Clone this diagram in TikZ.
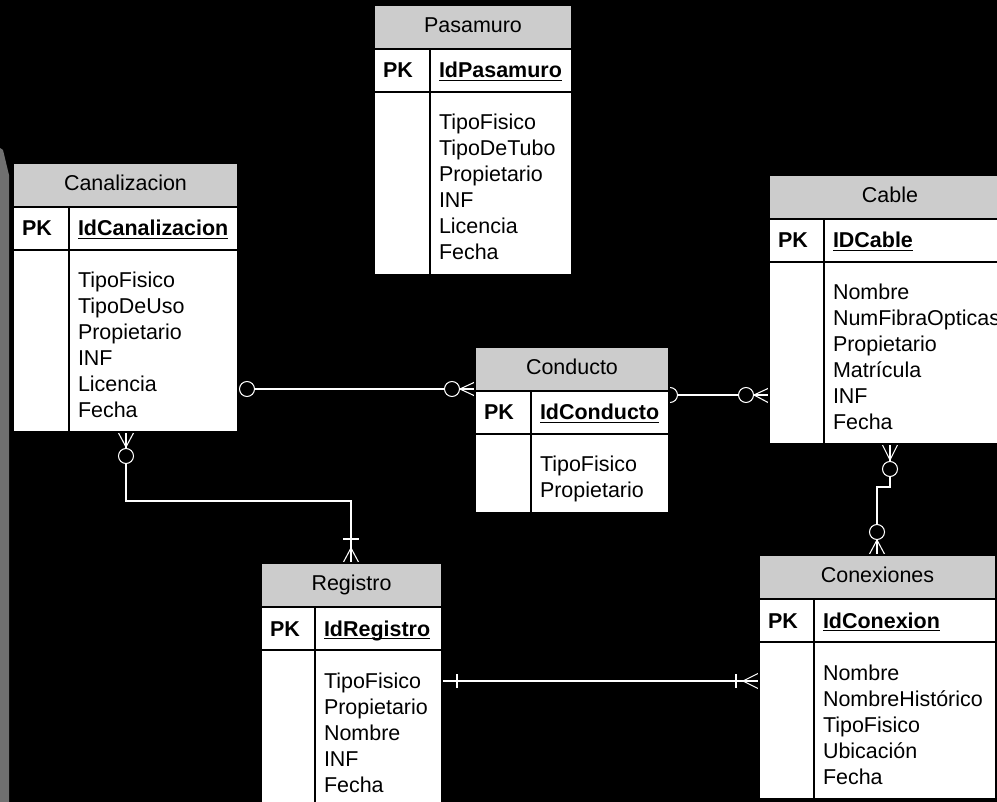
\documentclass[tikz,border=0pt]{standalone}
\usepackage{fontspec}
\setmainfont{Liberation Sans}
\definecolor{hdrgray}{RGB}{204,204,204}
\definecolor{stripgray}{RGB}{112,112,112}
\pgfdeclarelayer{canvas}
\pgfdeclarelayer{links}
\pgfsetlayers{canvas,links,main}
\newcommand\keyul[1]{\setbox0\hbox{#1}\rlap{\rule[-2.6pt]{\wd0}{1.1pt}}\box0}
\tikzset{
  ertable/.style={draw=black, fill=white, line width=1.5pt, inner sep=0pt, outer sep=0pt, anchor=north west},
  sepline/.style={draw=black, line width=1.5pt},
  ertext/.style={inner sep=0pt, outer sep=0pt, text=black, font=\fontsize{16.1pt}{19pt}\selectfont},
  rel/.style={draw=white, line width=0.8pt},
  zeromark/.style={draw=white, fill=black, line width=0.8pt},
}
% #1 name, #2 left, #3 top, #4 right, #5 bottom, #6 divider, #7 title, #8 key, #9 attributes
\newcommand\erentity[9]{%
  \node[ertable, minimum width={(#4-#2)*0.75pt}, minimum height={(#5-#3)*0.75pt}] (#1) at (#2,#3) {};
  \fill[hdrgray] (#2,#3) rectangle (#4,{#3+44});
  \draw[sepline] (#2,#3) rectangle (#4,#5);
  \draw[sepline] (#2,{#3+44}) -- (#4,{#3+44});
  \draw[sepline] (#2,{#3+87}) -- (#4,{#3+87});
  \draw[sepline] (#6,{#3+44}) -- (#6,#5);
  \node[ertext, anchor=base] (#1-title) at ({(#2+#4)/2},{#3+27.5}) {#7};
  \node[ertext, anchor=base west] (#1-pk) at ({#2+9},{#3+73}) {\textbf{PK}};
  \node[ertext, anchor=base west] (#1-key) at ({#6+9},{#3+73}) {\keyul{\textbf{#8}}};
  \foreach \a [count=\i] in {#9} {
    \node[ertext, anchor=base west] (#1-a\i) at ({#6+9},{#3+125+(\i-1)*26}) {\a};
  }
}
\begin{document}
\begin{tikzpicture}[x=0.75pt,y=-0.75pt]
\useasboundingbox (0,0) rectangle (997,802);

\begin{pgfonlayer}{canvas}
  \fill[black] (0,0) rectangle (997,802);
  \fill[stripgray] (0,148) -- (3,150) -- (9,175) -- (9,802) -- (0,802) -- cycle;
\end{pgfonlayer}

\erentity{pas}{374}{5}{572}{275}{430}{Pasamuro}{IdPasamuro}{TipoFisico,TipoDeTubo,Propietario,INF,Licencia,Fecha}
\erentity{can}{13}{163}{238}{432}{69}{Canalizacion}{IdCanalizacion}{TipoFisico,TipoDeUso,Propietario,INF,Licencia,Fecha}
\erentity{cond}{475}{347}{669}{513}{531}{Conducto}{IdConducto}{TipoFisico,Propietario}
\erentity{cab}{769}{175}{1011}{444}{824}{Cable}{IDCable}{Nombre,NumFibraOpticas,Propietario,Matrícula,INF,Fecha}
\erentity{conx}{759}{555}{996}{799}{814}{Conexiones}{IdConexion}{Nombre,NombreHistórico,TipoFisico,Ubicación,Fecha}
\erentity{reg}{261}{563}{442}{830}{315}{Registro}{IdRegistro}{TipoFisico,Propietario,Nombre,INF,Fecha}

\begin{pgfonlayer}{links}
  % Canalizacion -- Conducto
  \draw[rel] (can.east |- 0,389) -- (cond.west |- 0,389);
  \draw[zeromark] (247,389) circle (7.5);
  \draw[zeromark] (452,389) circle (7.5);
  \draw[rel] (460,389) -- (cond.west |- 0,382) (460,389) -- (cond.west |- 0,396);
  % Conducto -- Cable
  \draw[rel] (cond.east |- 0,395) -- (cab.west |- 0,395);
  \draw[zeromark] (670,395) circle (7.5);
  \draw[zeromark] (746,395) circle (7.5);
  \draw[rel] (754,395) -- (cab.west |- 0,388) (754,395) -- (cab.west |- 0,403);
  % Canalizacion -- Registro
  \draw[rel] (can.south -| 126,0) -- (126,501) -- (351,501) -- (reg.north -| 351,0);
  \draw[rel] (118,432) -- (126,447) -- (134,432);
  \draw[zeromark] (126,456) circle (7.5);
  \draw[rel] (343,539) -- (359,539);
  \draw[rel] (343,563) -- (351,548) -- (359,563);
  % Cable -- Conexiones
  \draw[rel] (cab.south -| 890,0) -- (890,487) -- (877,487) -- (conx.north -| 877,0);
  \draw[rel] (882,444) -- (890,460) -- (898,444);
  \draw[zeromark] (890,469) circle (7.5);
  \draw[zeromark] (877,532) circle (7.5);
  \draw[rel] (869,555) -- (877,540) -- (885,555);
  % Registro -- Conexiones
  \draw[rel] (reg.east |- 0,681) -- (conx.west |- 0,681);
  \draw[rel] (457,674) -- (457,688);
  \draw[rel] (736,674) -- (736,688);
  \draw[rel] (743,681) -- (conx.west |- 0,673) (743,681) -- (conx.west |- 0,689);
\end{pgfonlayer}
\end{tikzpicture}
\end{document}
